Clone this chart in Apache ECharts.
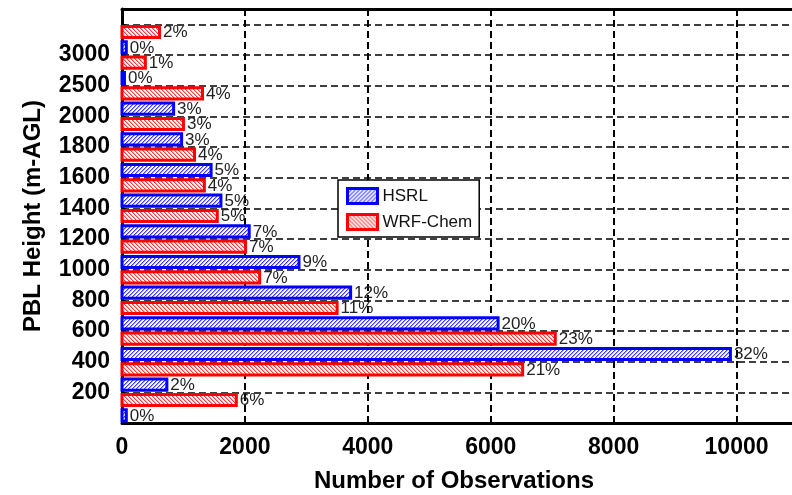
<!DOCTYPE html>
<html>
<head>
<meta charset="utf-8">
<script src="https://cdn.jsdelivr.net/npm/echarts@6/dist/echarts.min.js"></script>
<style>
  html, body { margin: 0; padding: 0; background: #fff; overflow: hidden; }
  #chart { width: 792px; height: 495px; }
</style>
</head>
<body>
<div id="chart"></div>
<script>
// PBL height bins, lowest bin first (index 0 sits on the x axis); the top bin has no tick label
const heightTickLabels = ['', '200', '400', '600', '800', '1000', '1200', '1400', '1600', '1800', '2000', '2500', '3000', ''];
// Number of observations per bin
const hsrlCounts    = [70, 730, 9900, 6120, 3720, 2880, 2070, 1610, 1450, 970, 840, 40, 70, null];
const wrfChemCounts = [null, 1860, 6520, 7050, 3500, 2240, 2010, 1550, 1340, 1180, 1000, 1310, 380, 610];
const xTicks = [0, 2000, 4000, 6000, 8000, 10000];

const FONT = '"Liberation Sans", Arial, Helvetica, sans-serif';

// Small tiled canvas used as a diagonal hatch fill (4 px period, soft 2 px stripes)
function hatch(strong, soft, forward) {
  const n = 4;
  const c = document.createElement('canvas');
  c.width = n; c.height = n;
  const g = c.getContext('2d');
  g.fillStyle = '#fff';
  g.fillRect(0, 0, n, n);
  for (let x = 0; x < n; x++) {
    for (let y = 0; y < n; y++) {
      const k = forward ? (x + y) % n : ((x - y) % n + n) % n;
      if (k === 0) { g.fillStyle = strong; g.fillRect(x, y, 1, 1); }
      else if (k === 1) { g.fillStyle = soft; g.fillRect(x, y, 1, 1); }
    }
  }
  return { image: c, repeat: 'repeat' };
}

const blueFill = hatch('#3a3aff', '#a0a0ff', true);
const redFill = hatch('#ff3a3a', '#ffa8a8', false);

function toData(counts) {
  const out = [];
  counts.forEach((v, i) => { if (v != null) out.push([v, i]); });
  return out;
}
function total(counts) {
  return counts.reduce((s, v) => s + (v || 0), 0);
}

// Each bin holds two bars: HSRL just above the bin line, WRF-Chem just below it
function barRenderer(offset, fill, stroke, sum) {
  return function (params, api) {
    const value = api.value(0);
    const idx = api.value(1);
    const start = api.coord([0, idx + offset]);
    const end = api.coord([value, idx + offset]);
    const thick = api.size([0, 0.46])[1] - 3;
    const pct = Math.round(value / sum * 100) + '%';
    return {
      type: 'group',
      children: [
        {
          type: 'rect',
          shape: { x: start[0], y: end[1] - thick / 2, width: end[0] - start[0], height: thick },
          style: { fill: fill, stroke: stroke, lineWidth: 3, lineJoin: 'miter' }
        },
        {
          type: 'text',
          x: end[0] + 3.5,
          y: end[1] + 0.5,
          z2: 10,
          style: {
            text: pct, fill: '#222', fontSize: 17, fontFamily: FONT,
            align: 'left', verticalAlign: 'middle'
          }
        }
      ]
    };
  };
}

const chart = echarts.init(document.getElementById('chart'), null, { renderer: 'canvas' });

const axisLine = { show: true, lineStyle: { color: '#000', width: 3 } };
const innerTick = { show: true, inside: true, length: 4, lineStyle: { color: '#000', width: 1.5 } };

chart.setOption({
  animation: false,
  backgroundColor: '#fff',
  textStyle: { fontFamily: FONT },
  // plot area runs slightly past the right edge of the canvas
  grid: { left: 122, top: 9, width: 676, bottom: 72, containLabel: false, outerBoundsMode: 'none' },
  legend: {
    orient: 'vertical',
    left: 338,
    top: 180,
    padding: [7, 7, 6, 8],
    itemGap: 8,
    itemWidth: 30,
    itemHeight: 15,
    backgroundColor: '#fff',
    borderColor: '#000',
    borderWidth: 1.5,
    textStyle: { fontSize: 17, fontFamily: FONT, color: '#111' },
    data: [
      { name: 'HSRL', icon: 'rect', itemStyle: { color: blueFill, borderColor: '#0000ff', borderWidth: 3 } },
      { name: 'WRF-Chem', icon: 'rect', itemStyle: { color: redFill, borderColor: '#ff0000', borderWidth: 3 } }
    ]
  },
  xAxis: [
    {
      type: 'value',
      position: 'bottom',
      min: xTicks[0],
      max: 11000,
      interval: xTicks[1] - xTicks[0],
      axisLine: axisLine,
      axisTick: innerTick,
      axisLabel: {
        fontSize: 23, fontWeight: 'bold', color: '#000', margin: 13, fontFamily: FONT,
        formatter: v => (xTicks.indexOf(v) >= 0 ? String(v) : '')
      },
      splitLine: { show: true, lineStyle: { color: '#000', width: 2, type: [7, 4] } },
      name: 'Number of Observations',
      nameLocation: 'middle',
      nameGap: 46,
      nameTextStyle: { fontSize: 24, fontWeight: 'bold', color: '#000', fontFamily: FONT, padding: [0, 12, 0, 0] }
    },
    {
      type: 'value',
      position: 'top',
      min: xTicks[0],
      max: 11000,
      interval: xTicks[1] - xTicks[0],
      axisLine: axisLine,
      axisTick: innerTick,
      axisLabel: { show: false },
      splitLine: { show: false }
    }
  ],
  yAxis: {
    type: 'value',
    min: 0,
    max: 13.5,
    interval: 1,
    axisLine: axisLine,
    axisTick: innerTick,
    axisLabel: {
      fontSize: 23, fontWeight: 'bold', color: '#000', margin: 12, fontFamily: FONT,
      formatter: v => heightTickLabels[v] || ''
    },
    splitLine: { show: true, lineStyle: { color: '#000', width: 1.5, type: [7, 4] } },
    name: 'PBL Height (m-AGL)',
    nameLocation: 'middle',
    nameGap: 77,
    nameTextStyle: { fontSize: 24, fontWeight: 'bold', color: '#000', fontFamily: FONT }
  },
  series: [
    {
      name: 'HSRL',
      type: 'custom',
      xAxisIndex: 0,
      yAxisIndex: 0,
      itemStyle: { color: blueFill, borderColor: '#0000ff', borderWidth: 3 },
      encode: { x: 0, y: 1 },
      data: toData(hsrlCounts),
      renderItem: barRenderer(0.25, blueFill, '#0000ff', total(hsrlCounts))
    },
    {
      name: 'WRF-Chem',
      type: 'custom',
      xAxisIndex: 0,
      yAxisIndex: 0,
      itemStyle: { color: redFill, borderColor: '#ff0000', borderWidth: 3 },
      encode: { x: 0, y: 1 },
      data: toData(wrfChemCounts),
      renderItem: barRenderer(-0.25, redFill, '#ff0000', total(wrfChemCounts))
    }
  ]
});
</script>
</body>
</html>
